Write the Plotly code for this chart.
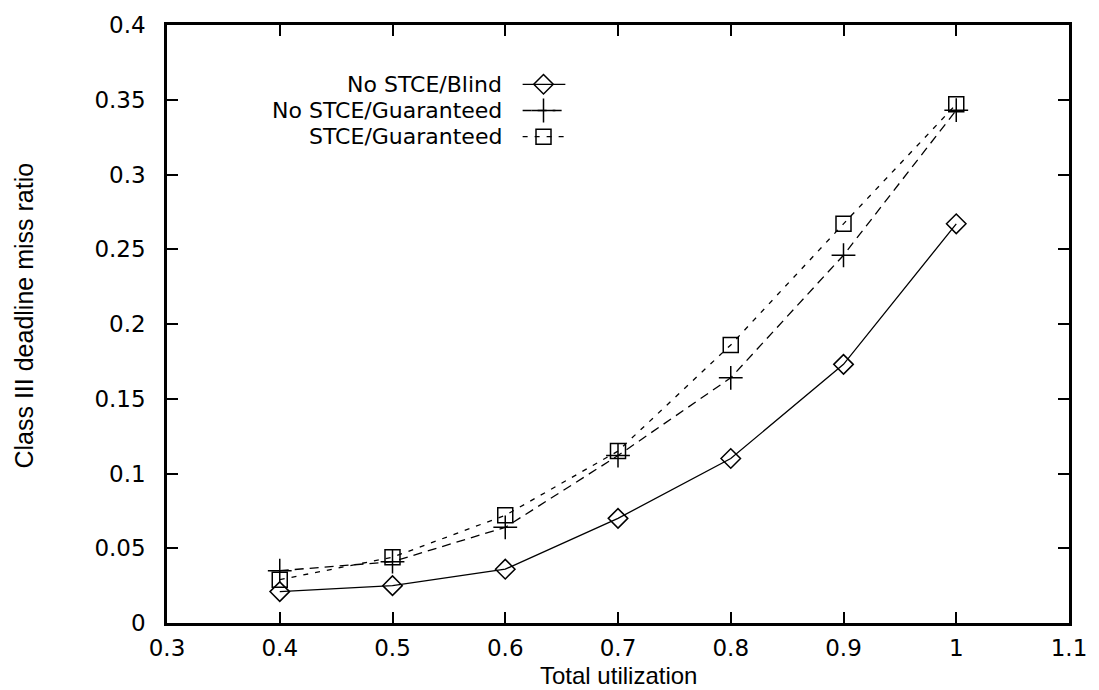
import plotly.graph_objects as go

utilization = [0.4, 0.5, 0.6, 0.7, 0.8, 0.9, 1.0]
no_stce_blind = [0.021, 0.025, 0.036, 0.070, 0.110, 0.173, 0.267]
no_stce_guaranteed = [0.035, 0.041, 0.064, 0.112, 0.164, 0.246, 0.343]
stce_guaranteed = [0.029, 0.044, 0.072, 0.115, 0.186, 0.267, 0.347]

series_names = ["No STCE/Blind", "No STCE/Guaranteed", "STCE/Guaranteed"]
series_values = [no_stce_blind, no_stce_guaranteed, stce_guaranteed]
series_symbols = ["diamond-open", "cross-thin-open", "square-open"]
series_sizes = [15, 17, 15]
series_dash = ["solid", "9px,6px", "5px,7px"]

x_ticks = [0.3, 0.4, 0.5, 0.6, 0.7, 0.8, 0.9, 1.0, 1.1]
x_tick_text = ["0.3", "0.4", "0.5", "0.6", "0.7", "0.8", "0.9", "1", "1.1"]
y_ticks = [0, 0.05, 0.1, 0.15, 0.2, 0.25, 0.3, 0.35, 0.4]
y_tick_text = ["0", "0.05", "0.1", "0.15", "0.2", "0.25", "0.3", "0.35", "0.4"]

x_title = "Total utilization"
y_title = "Class III deadline miss ratio"

W, H = 1099, 690
ML, MR, MT, MB = 167, 24, 18, 67
PW, PH = W - ML - MR, H - MT - MB

FONT = "DejaVu Sans, Liberation Sans, Arial, sans-serif"
TFONT = "Liberation Sans, Arial, Helvetica, sans-serif"


def px_x(p):
    return (p - ML) / PW


def px_y(p):
    return (MT + PH - p) / PH


fig = go.Figure()
for name, vals, sym, sz, dash in zip(series_names, series_values, series_symbols, series_sizes, series_dash):
    fig.add_trace(go.Scatter(
        x=utilization, y=vals, mode="lines+markers", name=name, showlegend=False,
        line=dict(color="black", width=1.3, dash=dash),
        marker=dict(symbol=sym, size=sz, color="black", line=dict(color="black", width=1.5)),
    ))

# custom legend (text then sample, like gnuplot)
row_y = [78, 104.5, 131]
text_right = 506
line_x0, line_x1, mark_x = 525, 568, 546
for name, sym, sz, dash, ry in zip(series_names, series_symbols, series_sizes, series_dash, row_y):
    fig.add_annotation(x=px_x(text_right), y=px_y(ry), xref="paper", yref="paper",
                       text=name, showarrow=False, xanchor="right", yanchor="middle",
                       font=dict(family=FONT, size=22, color="black"))
    fig.add_trace(go.Scatter(
        x=[px_x(line_x0), px_x(line_x1)], y=[px_y(ry), px_y(ry)], mode="lines",
        line=dict(color="black", width=1.3, dash=dash), xaxis="x2", yaxis="y2",
        showlegend=False, hoverinfo="skip"))
    fig.add_trace(go.Scatter(
        x=[px_x(mark_x)], y=[px_y(ry)], mode="markers",
        marker=dict(symbol=sym, size=sz, color="black", line=dict(color="black", width=1.5)),
        xaxis="x2", yaxis="y2", showlegend=False, hoverinfo="skip"))

# axis titles
fig.add_annotation(x=0.5, y=px_y(676), xref="paper", yref="paper", text=x_title,
                   showarrow=False, xanchor="center", yanchor="middle",
                   font=dict(family=TFONT, size=24, color="black"))
fig.add_annotation(x=px_x(23), y=px_y(312), xref="paper", yref="paper", text=y_title,
                   showarrow=False, xanchor="center", yanchor="middle", textangle=-90,
                   font=dict(family=TFONT, size=25, color="black"))

axis_common = dict(
    showline=True, linecolor="black", linewidth=2.5, mirror="allticks",
    ticks="inside", ticklen=11, tickwidth=2, tickcolor="black",
    showgrid=False, zeroline=False,
    tickfont=dict(family=FONT, size=23, color="black"),
)

fig.update_layout(
    width=W, height=H,
    margin=dict(l=ML, r=MR, t=MT, b=MB),
    paper_bgcolor="white", plot_bgcolor="white",
    xaxis=dict(range=[0.3, 1.1], tickvals=x_ticks, ticktext=x_tick_text,
               ticklabelstandoff=3, **axis_common),
    yaxis=dict(range=[0, 0.4], tickvals=y_ticks, ticktext=y_tick_text,
               ticklabelstandoff=14, **axis_common),
    xaxis2=dict(range=[0, 1], overlaying="x", visible=False, fixedrange=True),
    yaxis2=dict(range=[0, 1], overlaying="y", visible=False, fixedrange=True),
    showlegend=False,
)

fig.write_html("out.html")
